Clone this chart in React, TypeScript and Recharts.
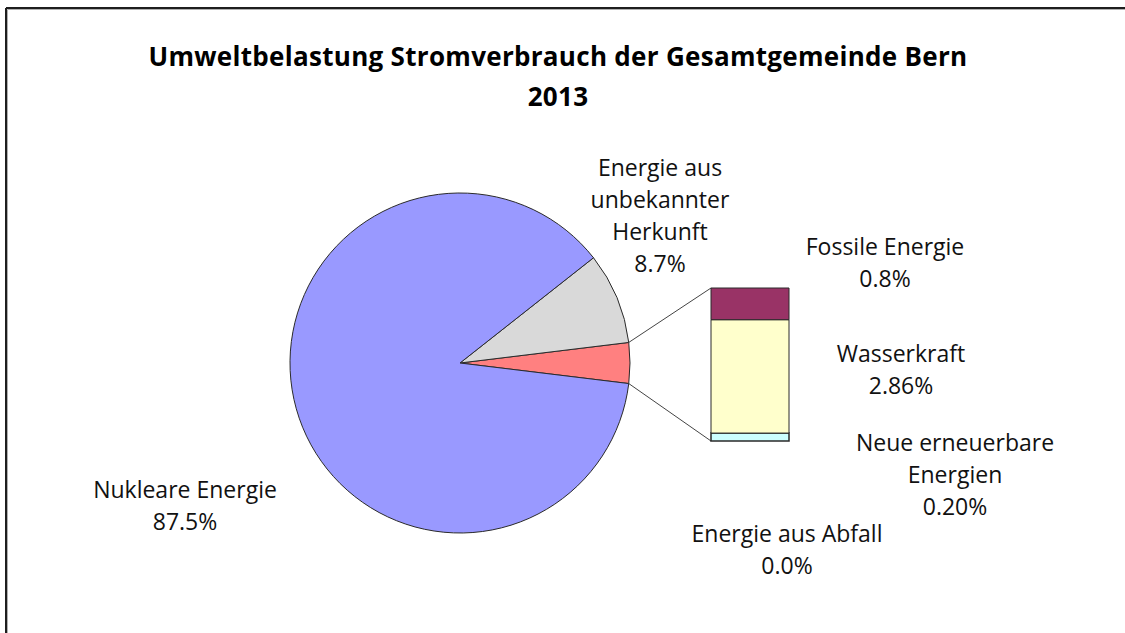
import React from "react";
import { PieChart, Pie, Cell, BarChart, Bar, XAxis, YAxis } from "recharts";

// ---- data ----
const pieNames = ["Andere", "Energie aus unbekannter Herkunft", "Nukleare Energie"];
const pieValues = [3.86, 8.7, 87.5];
const pieColors = ["#FF8080", "#D9D9D9", "#9999FF"];

const barKeys = ["abfall", "neue", "wasser", "fossil"];
const barValues = [0.0, 0.2, 2.86, 0.8];
const barColors = ["#333333", "#CCFFFF", "#FFFFCC", "#993366"];

const labelLines = [
  ["Nukleare Energie"],
  ["Energie aus", "unbekannter", "Herkunft"],
  ["Fossile Energie"],
  ["Wasserkraft"],
  ["Neue erneuerbare", "Energien"],
  ["Energie aus Abfall"],
];
const labelValues = ["87.5%", "8.7%", "0.8%", "2.86%", "0.20%", "0.0%"];

const titleLines = ["Umweltbelastung Stromverbrauch der Gesamtgemeinde Bern", "2013"];

// ---- layout ----
const W = 1125;
const H = 633;
const PIE_CX = 460;
const PIE_CY = 363;
const PIE_R = 170;
const BAR_LEFT = 711;
const BAR_TOP = 288;
const BAR_W = 78;
const BAR_H = 153;
const PAD = 10;
const labelPos = [
  { x: 185, y: 473 },
  { x: 660, y: 151 },
  { x: 885, y: 230 },
  { x: 901, y: 337 },
  { x: 955, y: 426 },
  { x: 787, y: 517 },
];
const FONT = "'Open Sans', 'Noto Sans', sans-serif";

const pieData = pieNames.map((n, i) => ({ name: n, value: pieValues[i] }));
const barRow: Record<string, number | string> = { name: "Andere" };
barKeys.forEach((k, i) => (barRow[k] = barValues[i]));
const barData = [barRow];

const total = pieValues.reduce((a, b) => a + b, 0);
const halfAngle = (pieValues[0] / total) * 180;
const barTotal = barValues.reduce((a, b) => a + b, 0);

export default function App() {
  const rad = (halfAngle * Math.PI) / 180;
  const p1 = { x: PIE_CX + PIE_R * Math.cos(rad), y: PIE_CY - PIE_R * Math.sin(rad) };
  const p2 = { x: PIE_CX + PIE_R * Math.cos(rad), y: PIE_CY + PIE_R * Math.sin(rad) };
  return (
    <div style={{ position: "relative", width: W, height: H, overflow: "hidden", background: "#fff", fontFamily: FONT }}>
      <style>{`html,body{margin:0;padding:0;overflow:hidden}`}</style>
      <svg style={{ position: "absolute", left: 0, top: 0 }} width={W} height={H}>
        <line x1={6} y1={8} x2={W} y2={8} stroke="#1e1e1e" strokeWidth={2} />
        <line x1={6} y1={8} x2={6} y2={H} stroke="#1e1e1e" strokeWidth={2} />
        <line x1={7.5} y1={9.5} x2={W} y2={9.5} stroke="#b0b0b0" strokeWidth={1} />
        <line x1={7.5} y1={9.5} x2={7.5} y2={H} stroke="#b0b0b0" strokeWidth={1} />
      </svg>
      <div
        style={{
          position: "absolute",
          left: 0,
          width: 1116,
          top: 36,
          textAlign: "center",
          fontWeight: 700,
          fontSize: 26,
          letterSpacing: 0.3,
          lineHeight: "40px",
          color: "#000",
        }}
      >
        {titleLines.map((t, i) => (
          <div key={i}>{t}</div>
        ))}
      </div>

      <div style={{ position: "absolute", left: 0, top: 0 }}>
        <PieChart width={W} height={H} margin={{ top: 0, right: 0, bottom: 0, left: 0 }}>
          <Pie
            data={pieData}
            dataKey="value"
            nameKey="name"
            cx={PIE_CX}
            cy={PIE_CY}
            outerRadius={PIE_R}
            startAngle={-halfAngle}
            endAngle={360 - halfAngle}
            stroke="#2a2a2a"
            strokeWidth={1}
            isAnimationActive={false}
            labelLine={false}
          >
            {pieData.map((d, i) => (
              <Cell key={d.name} fill={pieColors[i]} />
            ))}
          </Pie>
        </PieChart>
      </div>

      <svg style={{ position: "absolute", left: 0, top: 0 }} width={W} height={H}>
        <line x1={p1.x} y1={p1.y} x2={BAR_LEFT} y2={BAR_TOP} stroke="#444" strokeWidth={1} />
        <line x1={p2.x} y1={p2.y} x2={BAR_LEFT} y2={BAR_TOP + BAR_H} stroke="#444" strokeWidth={1} />
      </svg>

      <div style={{ position: "absolute", left: BAR_LEFT - PAD, top: BAR_TOP - PAD }}>
        <BarChart
          width={BAR_W + 2 * PAD}
          height={BAR_H + 2 * PAD}
          data={barData}
          margin={{ top: PAD, right: PAD, bottom: PAD, left: PAD }}
          barCategoryGap={0}
        >
          <XAxis dataKey="name" hide />
          <YAxis hide domain={[0, barTotal]} />
          {barKeys.map((k, i) => (
            <Bar
              key={k}
              dataKey={k}
              stackId="a"
              fill={barColors[i]}
              stroke="#2a2a2a"
              strokeWidth={i === 1 ? 1.5 : 1}
              isAnimationActive={false}
            />
          ))}
        </BarChart>
      </div>

      {labelLines.map((lines, i) => (
        <div
          key={i}
          style={{
            position: "absolute",
            left: labelPos[i].x - 150,
            width: 300,
            top: labelPos[i].y,
            textAlign: "center",
            fontSize: 23,
            lineHeight: "32px",
            color: "#111",
            whiteSpace: "nowrap",
          }}
        >
          {lines.map((l, j) => (
            <div key={j}>{l}</div>
          ))}
          <div>{labelValues[i]}</div>
        </div>
      ))}
    </div>
  );
}
